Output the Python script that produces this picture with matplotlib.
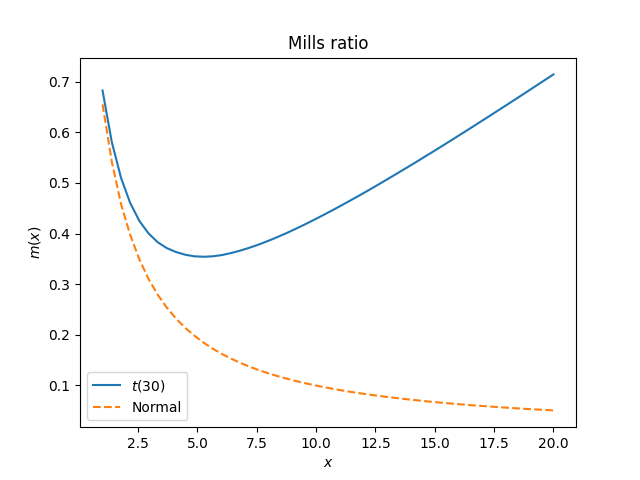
import matplotlib
matplotlib.use("Agg")
from matplotlib import pyplot as plt

# grid of x values (50 points from 1 to 20)
x = [1.00, 1.39, 1.78, 2.16, 2.55, 2.94, 3.33, 3.71, 4.10, 4.49,
     4.88, 5.27, 5.65, 6.04, 6.43, 6.82, 7.20, 7.59, 7.98, 8.37,
     8.76, 9.14, 9.53, 9.92, 10.31, 10.69, 11.08, 11.47, 11.86, 12.24,
     12.63, 13.02, 13.41, 13.80, 14.18, 14.57, 14.96, 15.35, 15.73, 16.12,
     16.51, 16.90, 17.29, 17.67, 18.06, 18.45, 18.84, 19.22, 19.61, 20.00]

# Mills ratio, t(30)
mills_t30 = [0.6830, 0.5810, 0.5100, 0.4610, 0.4250, 0.4000, 0.3825, 0.3710, 0.3633, 0.3579,
             0.3548, 0.3540, 0.3549, 0.3574, 0.3615, 0.3664, 0.3720, 0.3783, 0.3854, 0.3930,
             0.4010, 0.4093, 0.4181, 0.4273, 0.4367, 0.4461, 0.4560, 0.4661, 0.4763, 0.4865,
             0.4971, 0.5079, 0.5188, 0.5298, 0.5405, 0.5518, 0.5630, 0.5744, 0.5856, 0.5971,
             0.6087, 0.6204, 0.6321, 0.6436, 0.6554, 0.6673, 0.6792, 0.6909, 0.7029, 0.7149]

# Mills ratio, normal
mills_norm = [0.6557, 0.5420, 0.4580, 0.3980, 0.3490, 0.3099, 0.2785, 0.2532, 0.2314, 0.2130,
              0.1974, 0.1837, 0.1719, 0.1613, 0.1521, 0.1437, 0.1364, 0.1295, 0.1234, 0.1178,
              0.1127, 0.1081, 0.1038, 0.0998, 0.0961, 0.0927, 0.0895, 0.0865, 0.0837, 0.0812,
              0.0787, 0.0764, 0.0742, 0.0721, 0.0702, 0.0683, 0.0665, 0.0649, 0.0633, 0.0618,
              0.0603, 0.0590, 0.0577, 0.0564, 0.0552, 0.0540, 0.0529, 0.0519, 0.0509, 0.0499]

fig, ax = plt.subplots(figsize=(6.4, 4.8), dpi=100)
ax.plot(x, mills_t30, label="$t(30)$")
ax.plot(x, mills_norm, "--", label="Normal")
ax.set_title("Mills ratio")
ax.set_xlabel("$x$")
ax.set_ylabel("$m(x)$")
ax.legend(loc="lower left")

fig.savefig("out.png")
